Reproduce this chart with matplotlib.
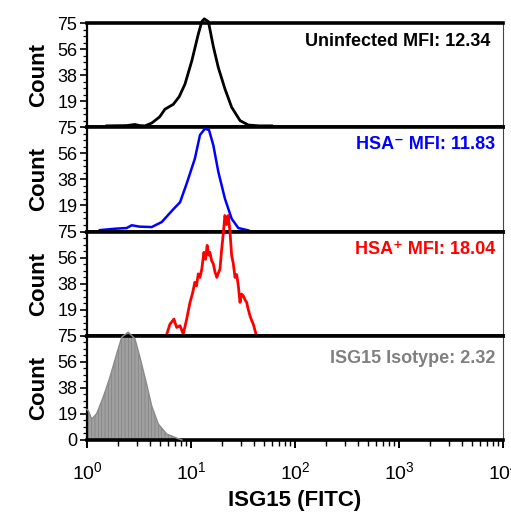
import matplotlib
matplotlib.use("Agg")
import matplotlib.pyplot as plt
from matplotlib.ticker import FixedLocator, LogLocator, NullFormatter
import numpy as np

plt.rcParams['font.family'] = ['Liberation Sans', 'DejaVu Sans']
plt.rcParams['mathtext.fontset'] = 'custom'
plt.rcParams['mathtext.rm'] = 'Liberation Sans'
plt.rcParams['hatch.linewidth'] = 0.5

# ---- data (fluorescence intensity, count) ----
uninf_x = [1.55, 2.4, 2.89, 3.2, 3.61, 4.19, 5.0, 5.62, 6.76, 7.7, 8.75, 10.2, 11.75, 12.7,
           13.4, 14.7, 16.4, 18.3, 21.2, 24.6, 29.6, 35.6, 45.0, 59.7]
uninf_y = [1.0, 1.2, 2.0, 1.2, 1.0, 3.0, 7.5, 13.0, 16.5, 22.0, 31.0, 48.0, 67.0, 76.0,
           78.0, 76.0, 58.0, 43.0, 27.6, 14.4, 4.8, 1.6, 1.0, 1.0]

hsan_x = [1.33, 1.86, 2.41, 2.69, 3.2, 4.19, 5.23, 6.76, 7.84, 9.09, 10.9, 12.2, 13.6,
          14.9, 16.4, 18.3, 21.2, 24.6, 28.5, 35.6]
hsan_y = [1.0, 2.0, 2.5, 4.5, 3.5, 3.2, 6.8, 16.0, 21.0, 34.5, 52.5, 69.4, 74.0,
          73.0, 62.0, 43.0, 23.6, 9.2, 2.5, 0.8]

hsap_x = [5.84, 6.28, 6.86, 7.05, 7.29, 7.84, 8.43, 9.09, 9.78, 10.3, 10.9, 11.3, 11.75, 12.2,
          12.7, 13.3, 13.8, 14.3, 14.8, 15.2, 15.8, 16.4, 17.0, 17.7, 18.3, 19.0, 19.6,
          20.2, 21.2, 22.0, 22.8, 23.7, 24.6, 25.5, 26.5, 27.5, 28.5, 29.6, 30.6, 31.8,
          33.0, 34.3, 35.5, 36.9, 38.3, 39.7, 42.2]
hsap_y = [1.0, 8.4, 12.0, 9.0, 6.0, 7.2, 1.2, 12.0, 24.0, 30.0, 38.5, 36.0, 44.5, 42.0,
          48.0, 60.0, 55.0, 65.0, 58.0, 60.0, 54.0, 51.7, 46.0, 42.0, 45.0, 48.0, 60.0,
          69.7, 86.5, 80.0, 86.5, 75.0, 57.7, 52.0, 42.0, 44.0, 36.0, 24.0, 30.0, 28.8,
          26.0, 24.0, 19.0, 14.4, 11.0, 8.4, 1.2]

iso_x = [1.0, 1.03, 1.11, 1.24, 1.43, 1.66, 1.93, 2.16, 2.49, 2.89, 3.23, 3.75, 4.19,
         4.85, 5.84, 7.29, 7.84, 8.2]
iso_y = [22.0, 21.0, 15.0, 19.0, 30.7, 45.0, 62.0, 74.0, 77.6, 72.8, 59.5, 40.0, 24.5,
         11.5, 4.3, 1.4, 0.5, 0.0]

labels = ["Uninfected MFI: 12.34", "HSA\u207b MFI: 11.83", "HSA\u207a MFI: 18.04",
          "ISG15 Isotype: 2.32"]
colors = ["#000000", "#0000ff", "#ff0000", "#808080"]
ytick_vals = [18.75, 37.5, 56.25, 75]
ytick_labels = ["19", "38", "56", "75"]
xlabel = "ISG15 (FITC)"
ylabel = "Count"

fig = plt.figure(figsize=(5.11, 5.29), dpi=100)
W, H = 511.0, 529.0
left, right = 87.0, 503.0
top, bottom = 23.0, 440.0
ph = (bottom - top) / 4.0

series = [(uninf_x, uninf_y), (hsan_x, hsan_y), (hsap_x, hsap_y), (iso_x, iso_y)]
text_offsets = [19, 17, 18, 23]
text_right = [490, 495, 495, 495]
for i in range(4):
    ax_bottom = 1 - (top + (i + 1) * ph) / H
    ax = fig.add_axes([left / W, ax_bottom, (right - left) / W, ph / H])
    ax.set_xscale('log')
    ax.set_xlim(1, 1e4)
    ax.set_ylim(0, 75)
    xs, ys = series[i]
    if i < 3:
        lw = 2.0 if i != 1 else 1.8
        ax.plot(xs, ys, color=colors[i], lw=lw, clip_on=False, zorder=3,
                solid_joinstyle='round')
    else:
        ax.fill_between(xs, ys, 0, facecolor='#a0a0a0', edgecolor='#808080',
                        hatch='|||||', lw=0, clip_on=False, zorder=2)
        ax.plot(xs, ys, color='#8a8a8a', lw=1.0, clip_on=False, zorder=3)
    ax.text((text_right[i] - left) / (right - left), 1 - text_offsets[i] / ph, labels[i],
            transform=ax.transAxes, ha='right', va='center', color=colors[i],
            fontsize=13, fontweight='bold')
    # spines
    ax.spines['top'].set_linewidth(2.6)
    ax.spines['bottom'].set_linewidth(2.6)
    ax.spines['left'].set_linewidth(1.6)
    ax.spines['right'].set_linewidth(0.8)
    ax.spines['right'].set_color('#444444')
    # y ticks
    if i == 3:
        ax.yaxis.set_major_locator(FixedLocator([0] + ytick_vals))
        ax.set_yticklabels(["0"] + ytick_labels)
    else:
        ax.yaxis.set_major_locator(FixedLocator(ytick_vals))
        ax.set_yticklabels(ytick_labels)
    ax.yaxis.set_minor_locator(FixedLocator(list(np.arange(0, 75.01, 75 / 16.0))))
    ax.tick_params(axis='y', which='major', direction='out', length=5, width=1.2,
                   labelsize=13, pad=2)
    ax.tick_params(axis='y', which='minor', direction='out', length=3, width=0.9)
    ax.set_ylabel(ylabel, fontsize=16, fontweight='bold', labelpad=6)
    # x ticks
    ax.xaxis.set_major_locator(LogLocator(base=10, numticks=10))
    ax.xaxis.set_minor_locator(LogLocator(base=10, subs=np.arange(2, 10), numticks=100))
    if i < 3:
        ax.tick_params(axis='x', which='both', bottom=False, labelbottom=False)
    else:
        ax.xaxis.set_minor_formatter(NullFormatter())
        ax.tick_params(axis='x', which='major', direction='out', length=6, width=1.4,
                       labelsize=14, pad=9)
        ax.tick_params(axis='x', which='minor', direction='out', length=4, width=1.0)
        ax.set_xlabel(xlabel, fontsize=16, fontweight='bold', labelpad=5)

fig.savefig("out.png", dpi=100, facecolor='white')
